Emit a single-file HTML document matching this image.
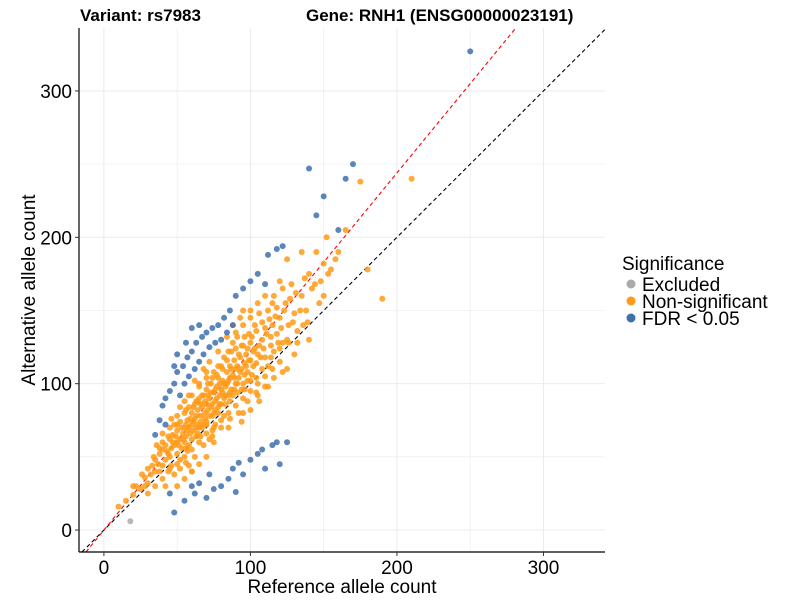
<!DOCTYPE html>
<html><head><meta charset="utf-8"><style>
body{margin:0;background:#fff;font-family:"Liberation Sans",sans-serif}
</style></head><body>
<svg id="chart" width="800" height="600" xmlns="http://www.w3.org/2000/svg" font-family="Liberation Sans, sans-serif">
<text x="80" y="21" font-size="17" font-weight="bold">Variant: rs7983</text>
<text x="306" y="21" font-size="17" font-weight="bold">Gene: RNH1 (ENSG00000023191)</text>
<g id="grid"></g>
<g id="lines"></g>
<g id="pts"></g>
<g id="axes"></g>
<text x="342" y="593" font-size="19" text-anchor="middle">Reference allele count</text>
<text transform="translate(35,290) rotate(-90)" font-size="19" text-anchor="middle">Alternative allele count</text>
<g>
<text x="622" y="270" font-size="19">Significance</text>
<circle cx="631" cy="284" r="4.5" fill="#aaaaaa"/>
<text x="642" y="291" font-size="19">Excluded</text>
<circle cx="631" cy="301" r="4.5" fill="#ff9a16"/>
<text x="642" y="308" font-size="19">Non-significant</text>
<circle cx="631" cy="318" r="4.5" fill="#3f70ad"/>
<text x="642" y="325" font-size="19">FDR &lt; 0.05</text>
</g>
</svg>
<script>
const xTicks=[0,100,200,300];
const yTicks=[0,100,200,300];
const xMin=-17,xMax=342,yMin=-15,yMax=343;
const redSlope=1.22;
const excluded=[[18,6]];
const nonsig=[[10,16],[15,20],[20,24],[22,30],[25,28],[28,36],[30,32],[30,42],[32,38],[35,40],[35,48],[37,45],[38,52],[40,44],[40,55],[40,60],[42,48],[42,58],[44,52],[45,50],[45,62],[45,70],[46,56],[47,65],[48,58],[48,72],[50,52],[50,60],[50,68],[50,78],[52,62],[52,74],[53,56],[54,66],[55,60],[55,70],[55,80],[55,88],[56,64],[57,75],[58,58],[58,70],[58,84],[60,62],[60,72],[60,80],[60,92],[61,68],[62,76],[62,86],[63,64],[64,72],[64,82],[65,70],[65,90],[65,98],[66,78],[67,84],[68,72],[68,92],[69,80],[70,74],[70,86],[70,96],[70,104],[71,82],[72,90],[72,78],[73,100],[74,86],[75,80],[75,94],[75,108],[76,88],[77,98],[78,84],[78,104],[79,92],[80,86],[80,96],[80,112],[81,102],[82,90],[82,118],[83,98],[84,108],[85,92],[85,102],[85,122],[86,112],[87,96],[88,106],[88,128],[89,116],[90,100],[90,110],[90,124],[91,132],[92,104],[93,118],[94,110],[95,100],[95,126],[95,140],[96,114],[97,120],[98,108],[99,134],[100,116],[100,128],[100,145],[102,112],[103,124],[104,136],[105,120],[106,148],[108,130],[110,118],[110,138],[112,150],[114,126],[115,140],[116,160],[118,134],[120,145],[122,128],[124,155],[126,140],[128,168],[130,148],[132,136],[135,160],[138,150],[140,175],[142,165],[145,190],[148,170],[150,182],[152,200],[155,178],[160,190],[165,205],[175,238],[180,178],[190,158],[210,240],[110,160],[120,170],[125,185],[135,190],[100,150],[30,25],[35,30],[40,35],[45,42],[50,45],[55,50],[60,55],[65,60],[70,66],[75,70],[80,75],[85,80],[90,85],[95,90],[100,95],[105,100],[110,105],[115,110],[120,115],[50,30],[55,35],[60,40],[65,45],[70,50],[58,44],[48,38],[42,30],[62,102],[68,110],[72,115],[78,122],[84,132],[88,140],[93,145],[60,40],[75,60],[85,70],[95,80],[105,92],[112,98],[125,110],[130,120],[140,130],[46,44],[52,48],[57,54],[66,64],[74,68],[82,78],[88,92],[96,96],[104,104],[72,62],[76,72],[83,86],[91,94],[98,102],[63,88],[56,82],[50,72],[44,64],[38,56],[34,50],[26,38],[20,30],
[43,54],[47,60],[49,64],[51,58],[53,70],[54,62],[56,72],[57,68],[59,76],[59,66],[61,74],[61,84],[63,78],[63,70],[64,88],[66,74],[66,86],[67,92],[67,70],[69,88],[69,76],[71,92],[71,100],[73,84],[73,94],[74,104],[74,78],[76,96],[76,82],[77,90],[77,106],[79,100],[79,86],[81,94],[81,110],[82,100],[83,92],[84,116],[84,100],[86,104],[86,94],[87,110],[87,122],[89,104],[89,96],[91,112],[91,100],[92,120],[93,108],[94,126],[96,106],[96,132],[97,112],[98,124],[99,116],[101,106],[101,132],[102,122],[103,140],[104,114],[106,126],[107,118],[108,142],[109,124],[111,134],[112,112],[113,144],[114,132],[116,122],[117,146],[118,152],[119,128],[121,138],[123,150],[125,130],[127,158],[129,142],[131,162],[134,150],[137,172],[139,142],[144,168],[147,155],[153,175],[158,185],[122,165],[115,155],[105,155],[95,150],[90,135],[78,112],[70,108],[65,100],[58,92],[52,84],[46,76],[40,66],[36,58],[33,44],[28,30],[38,40],[44,40],[52,42],[56,46],[62,50],[68,58],[74,64],[80,70],[86,76],[92,80],[98,88],[104,94],[110,98],[116,104],[122,108],[56,56],[64,66],[70,72],[78,80],[86,88],[94,96],[100,102],[108,110],[114,118],[120,124],[126,128],[132,128],[136,140],[150,160],[106,88],[100,82],[94,74]];
const fdr=[[40,85],[42,90],[45,95],[48,100],[50,108],[52,92],[54,112],[55,100],[57,118],[58,105],[60,122],[62,110],[63,128],[65,115],[67,132],[68,120],[70,135],[72,125],[74,138],[76,128],[78,140],[80,130],[82,145],[84,135],[86,150],[88,140],[60,138],[65,140],[56,128],[50,120],[48,112],[35,65],[38,75],[42,72],[90,160],[95,165],[100,170],[105,175],[110,168],[112,188],[118,192],[122,194],[140,247],[170,250],[150,228],[145,215],[160,205],[165,240],[250,327],[48,12],[55,20],[62,25],[65,32],[70,22],[72,38],[75,28],[80,30],[85,35],[88,42],[90,26],[92,46],[95,38],[100,48],[105,52],[108,55],[110,42],[115,58],[118,60],[120,45],[125,60],[45,25],[60,30]];
const W=800,px0=79,px1=605,py0=552,py1=28;
const sx=v=>px0+(v-xMin)/(xMax-xMin)*(px1-px0);
const sy=v=>py0-(v-yMin)/(yMax-yMin)*(py0-py1);
const NS='http://www.w3.org/2000/svg';
function mk(tag,attrs,parent){const e=document.createElementNS(NS,tag);for(const k in attrs)e.setAttribute(k,attrs[k]);document.getElementById(parent).appendChild(e);return e;}
for(let v=-50;v<=350;v+=50){
 if(v>=xMin&&v<=xMax){const g=mk('line',{x1:sx(v),x2:sx(v),y1:py1,y2:py0,stroke:'#ebebeb','stroke-width':v%100===0?1:0.6},'grid');
 
 }
 if(v>=yMin&&v<=yMax){const g=mk('line',{x1:px0,x2:px1,y1:sy(v),y2:sy(v),stroke:'#ebebeb','stroke-width':v%100===0?1:0.6},'grid');
 
 }
}
function drawPts(arr,color,name){arr.forEach(p=>{const c=mk('circle',{cx:sx(p[0]),cy:sy(p[1]),r:3.0,fill:color,'fill-opacity':0.85},'pts');

});}
drawPts(nonsig,'#ff9a16','point-nonsignificant');
drawPts(fdr,'#3f70ad','point-fdr');
drawPts(excluded,'#aaaaaa','point-excluded');
const bl=mk('line',{x1:sx(yMin),y1:sy(yMin),x2:sx(yMax),y2:sy(yMax),stroke:'#000','stroke-dasharray':'4,3','stroke-width':1.1},'lines');


const rxs=yMin/redSlope,rxe=yMax/redSlope;
const rl=mk('line',{x1:sx(rxs),y1:sy(yMin),x2:sx(rxe),y2:sy(yMax),stroke:'#ff0000','stroke-dasharray':'4,3','stroke-width':1.1},'lines');


const ax=mk('line',{x1:px0,x2:px1,y1:py0,y2:py0,stroke:'#000','stroke-width':1.2},'axes');


const ay=mk('line',{x1:px0,x2:px0,y1:py1,y2:py0,stroke:'#000','stroke-width':1.2},'axes');


xTicks.forEach(v=>{const t=mk('line',{x1:sx(v),x2:sx(v),y1:py0,y2:py0+4,stroke:'#333'},'axes');


const l=mk('text',{x:sx(v),y:py0+22,'font-size':19,'text-anchor':'middle',fill:'#000'},'axes');l.textContent=v;

});
yTicks.forEach(v=>{const t=mk('line',{x1:px0-4,x2:px0,y1:sy(v),y2:sy(v),stroke:'#333'},'axes');


const l=mk('text',{x:px0-7,y:sy(v)+7,'font-size':19,'text-anchor':'end',fill:'#000'},'axes');l.textContent=v;

});
</script>
</body></html>
